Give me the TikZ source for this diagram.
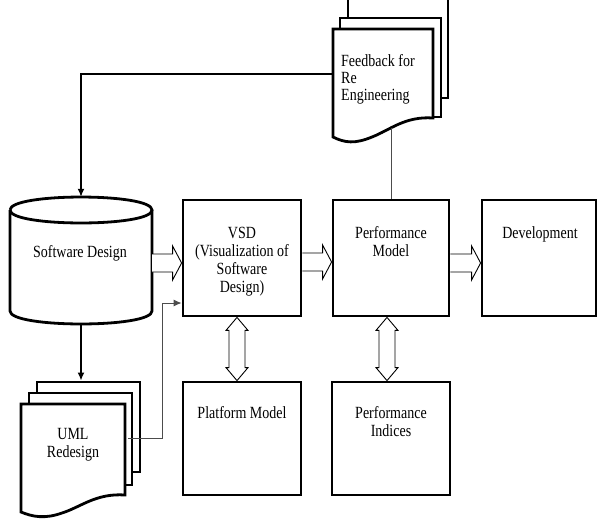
\documentclass[tikz,border=0pt]{standalone}
\usepackage{fontspec}
\usepackage{graphicx}
\setmainfont{Liberation Serif}
\usetikzlibrary{arrows.meta,calc}
\tikzset{
  x=1pt, y=-1pt,
  heavy/.style={line width=2.8pt},
  procbox/.style={draw, heavy, minimum width=#1, minimum height=116pt, inner sep=0pt},
  lowbox/.style={draw, heavy, minimum width=118pt, minimum height=113pt, inner sep=0pt},
  docpage/.style={draw, heavy, fill=white, inner sep=0pt},
  anchorbox/.style={inner sep=0pt},
  lbl/.style={font=\fontsize{14}{14.8}\selectfont, inner sep=0pt},
  blk/.style={line width=0.9pt, fill=white, line join=miter},
  thinline/.style={line width=1pt, draw=black!70},
  tip/.style={-{Latex[length=8pt,width=7pt]}},
}
\newcommand\tallc[1]{\scalebox{1}[1.22]{\begin{tabular}{@{}c@{}}#1\end{tabular}}}
\newcommand\talll[1]{\scalebox{1}[1.22]{\begin{tabular}{@{}l@{}}#1\end{tabular}}}
\newcommand\blkarrow[2]{%
  \filldraw[blk] ($(#1)+(0,-9)$) -- ($(#2)+(-9,-9)$) -- ($(#2)+(-9,-17)$) -- (#2)
    -- ($(#2)+(-9,17)$) -- ($(#2)+(-9,9)$) -- ($(#1)+(0,9)$);}
\newcommand\dblarrow[2]{%
  \filldraw[blk] (#1) -- ($(#1)+(11,13)$) -- ($(#1)+(8,13)$) -- ($(#2)+(8,-13)$)
    -- ($(#2)+(11,-13)$) -- (#2) -- ($(#2)+(-11,-13)$) -- ($(#2)+(-8,-13)$)
    -- ($(#1)+(-8,13)$) -- ($(#1)+(-11,13)$) -- cycle;}
\begin{document}
\begin{tikzpicture}
\useasboundingbox (0,0) rectangle (597,520);

% main boxes
\node[procbox=118pt] (vsd)  at (242,258) {};
\node[procbox=116pt] (perf) at (391,258) {};
\node[procbox=114pt] (dev)  at (539,258) {};
\node[lowbox] (plat) at (242,438.5) {};
\node[lowbox] (ind)  at (391,438.5) {};

% software design cylinder
\node[anchorbox, minimum width=142pt, minimum height=127pt] (sd) at (81,260.5) {};
\filldraw[heavy, fill=white] (10,210) -- (10,311) .. controls (10,328.3) and (152,328.3) .. (152,311) -- (152,210);
\draw[heavy] (10,210) .. controls (10,192.7) and (152,192.7) .. (152,210)
  .. controls (152,227.3) and (10,227.3) .. (10,210);

% feedback multi-document
\node[docpage, minimum width=100pt, minimum height=118pt] (fbback) at (398,39) {};
\node[docpage, minimum width=101pt, minimum height=99pt] (fbmid) at (390.5,67.5) {};
\node[anchorbox, minimum width=100pt, minimum height=108pt] (fbdoc) at (383,83) {};
\filldraw[heavy, fill=white] (333,137) -- (333,29) -- (433,29) -- (433,118)
  .. controls (405,116) and (390,130) .. (372,137)
  .. controls (355,144) and (345,143) .. (333,137) -- cycle;

% UML multi-document
\node[docpage, minimum width=103pt, minimum height=90pt] (umlback) at (88.5,427) {};
\node[docpage, minimum width=103pt, minimum height=92pt] (umlmid) at (80.5,439) {};
\node[anchorbox, minimum width=104pt, minimum height=108pt] (umldoc) at (73,458) {};
\filldraw[heavy, fill=white] (21,512) -- (21,404) -- (125,404) -- (125,495)
  .. controls (96,493) and (81,507) .. (62,513)
  .. controls (45,519) and (33,517) .. (21,512) -- cycle;

% labels
\node[lbl] (vsdl)  at (242,261.5) {\tallc{VSD\\(Visualization of\\Software\\Design)}};
\node[lbl] (perfl) at (391,244) {\tallc{Performance\\Model}};
\node[lbl] (devl)  at (540,235) {\tallc{Development}};
\node[lbl] (platl) at (242,415) {\tallc{Platform Model}};
\node[lbl] (indl)  at (391,424) {\tallc{Performance\\Indices}};
\node[lbl] (sdl)   at (80,254) {\tallc{Software Design}};
\node[lbl] (umll)  at (73,445) {\tallc{UML\\Redesign}};
\node[lbl, anchor=west, font=\fontsize{14}{14}\selectfont] (fbl) at (341,80) {\talll{Feedback for\\Re\\Engineering}};

% block arrows
\coordinate (a1s) at ($(sd.east)+(0,2.5)$);
\coordinate (a1e) at ($(vsd.west)+(0,5)$);
\coordinate (a2s) at ($(vsd.east)+(0,4)$);
\coordinate (a2e) at ($(perf.west)+(0,4)$);
\coordinate (a3s) at ($(perf.east)+(0,5)$);
\coordinate (a3e) at ($(dev.west)+(0,5)$);
\blkarrow{a1s}{a1e}
\blkarrow{a2s}{a2e}
\blkarrow{a3s}{a3e}

\coordinate (d1t) at ($(vsd.south)+(-5,0)$);
\coordinate (d1b) at ($(plat.north)+(-5,0)$);
\coordinate (d2t) at ($(perf.south)+(-4,0)$);
\coordinate (d2b) at ($(ind.north)+(-4,0)$);
\dblarrow{d1t}{d1b}
\dblarrow{d2t}{d2b}

% connectors
\draw[line width=1.5pt, tip] ($(fbdoc.west)+(0,-9)$) -| (sd.north);
\draw[heavy, tip] (sd.south) -- (sd.south |- umlback.north);
\coordinate (fbwave) at (391,128);
\draw[thinline] (fbwave) -- (perf.north);
\draw[thinline, tip, draw=black!70] ($(umldoc.east)+(3,-20)$) -- ++(34,0) |- ($(vsd.west)+(0,45)$);
\end{tikzpicture}
\end{document}
